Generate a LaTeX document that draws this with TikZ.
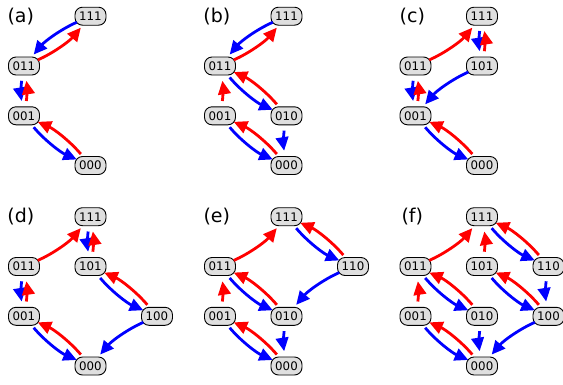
\documentclass[tikz,border=0pt]{standalone}
\usepackage{fontspec}
\setmainfont{DejaVu Sans}
\usetikzlibrary{arrows.meta}
\def\cL{24}
\def\cM{90.5}
\def\cR{157}
\def\rA{16.2}
\def\rB{66}
\def\rC{115.8}
\def\rD{165.5}
\tikzset{
  st/.style={draw=black, line width=0.9pt, fill=gray!25, rounded corners=7.5pt,
    minimum width=31pt, minimum height=18pt, inner sep=0pt,
    font=\fontsize{11.8}{12}\selectfont},
  lab/.style={inner sep=0pt, font=\fontsize{19}{20}\selectfont},
  arr/.style={line width=2.8pt, -{Triangle[length=13.5pt,width=12.5pt]},
    shorten <=15pt, shorten >=15pt, bend right=13},
  dn/.style={arr, draw=blue},
  up/.style={arr, draw=red},
  vb/.style={bend right=9}
}
\begin{document}
\begin{tikzpicture}[x=1pt,y=-1pt]
\fill[white] (0,0) rectangle (563,384);
\useasboundingbox (0,0) rectangle (563,384);
% ---------- (a)
\begin{scope}[shift={(0,0)}]
\node[lab] (la) at (20.8,16.3) {(a)};
\node[st] (a111) at (\cM,\rA) {111};
\node[st] (a011) at (\cL,\rB) {011};
\node[st] (a001) at (\cL,\rC) {001};
\node[st] (a000) at (\cM,\rD) {000};
\draw[dn] (a111.center) to (a011.center);
\draw[up] (a011.center) to (a111.center);
\draw[dn,vb] (a011.center) to (a001.center);
\draw[up,vb] (a001.center) to (a011.center);
\draw[dn] (a001.center) to (a000.center);
\draw[up] (a000.center) to (a001.center);
\end{scope}
% ---------- (b)
\begin{scope}[shift={(196,0)}]
\node[lab] (lb) at (20.8,16.3) {(b)};
\node[st] (b111) at (\cM,\rA) {111};
\node[st] (b011) at (\cL,\rB) {011};
\node[st] (b001) at (\cL,\rC) {001};
\node[st] (b010) at (\cM,\rC) {010};
\node[st] (b000) at (\cM,\rD) {000};
\draw[dn] (b111.center) to (b011.center);
\draw[up] (b011.center) to (b111.center);
\draw[up,vb] (b001.center) to (b011.center);
\draw[dn] (b011.center) to (b010.center);
\draw[up] (b010.center) to (b011.center);
\draw[dn,vb] (b010.center) to (b000.center);
\draw[dn] (b001.center) to (b000.center);
\draw[up] (b000.center) to (b001.center);
\end{scope}
% ---------- (c)
\begin{scope}[shift={(391.5,0)}]
\node[lab] (lc) at (20.8,16.3) {(c)};
\node[st] (c111) at (\cM,\rA) {111};
\node[st] (c011) at (\cL,\rB) {011};
\node[st] (c101) at (\cM,\rB) {101};
\node[st] (c001) at (\cL,\rC) {001};
\node[st] (c000) at (\cM,\rD) {000};
\draw[up] (c011.center) to (c111.center);
\draw[dn,vb] (c111.center) to (c101.center);
\draw[up,vb] (c101.center) to (c111.center);
\draw[dn] (c101.center) to (c001.center);
\draw[dn,vb] (c011.center) to (c001.center);
\draw[up,vb] (c001.center) to (c011.center);
\draw[dn] (c001.center) to (c000.center);
\draw[up] (c000.center) to (c001.center);
\end{scope}
% ---------- (d)
\begin{scope}[shift={(0,200.5)}]
\node[lab] (ld) at (20.8,16.3) {(d)};
\node[st] (d111) at (\cM,\rA) {111};
\node[st] (d011) at (\cL,\rB) {011};
\node[st] (d101) at (\cM,\rB) {101};
\node[st] (d001) at (\cL,\rC) {001};
\node[st] (d100) at (\cR,\rC) {100};
\node[st] (d000) at (\cM,\rD) {000};
\draw[up] (d011.center) to (d111.center);
\draw[dn,vb] (d111.center) to (d101.center);
\draw[up,vb] (d101.center) to (d111.center);
\draw[dn,vb] (d011.center) to (d001.center);
\draw[up,vb] (d001.center) to (d011.center);
\draw[dn] (d101.center) to (d100.center);
\draw[up] (d100.center) to (d101.center);
\draw[dn] (d100.center) to (d000.center);
\draw[dn] (d001.center) to (d000.center);
\draw[up] (d000.center) to (d001.center);
\end{scope}
% ---------- (e)
\begin{scope}[shift={(196,200.5)}]
\node[lab] (le) at (20.8,16.3) {(e)};
\node[st] (e111) at (\cM,\rA) {111};
\node[st] (e011) at (\cL,\rB) {011};
\node[st] (e110) at (\cR,\rB) {110};
\node[st] (e001) at (\cL,\rC) {001};
\node[st] (e010) at (\cM,\rC) {010};
\node[st] (e000) at (\cM,\rD) {000};
\draw[up] (e011.center) to (e111.center);
\draw[dn] (e111.center) to (e110.center);
\draw[up] (e110.center) to (e111.center);
\draw[dn] (e110.center) to (e010.center);
\draw[up,vb] (e001.center) to (e011.center);
\draw[dn] (e011.center) to (e010.center);
\draw[up] (e010.center) to (e011.center);
\draw[dn,vb] (e010.center) to (e000.center);
\draw[dn] (e001.center) to (e000.center);
\draw[up] (e000.center) to (e001.center);
\end{scope}
% ---------- (f)
\begin{scope}[shift={(391.5,200.5)}]
\node[lab] (lf) at (20.8,16.3) {(f)};
\node[st] (f111) at (\cM,\rA) {111};
\node[st] (f011) at (\cL,\rB) {011};
\node[st] (f101) at (\cM,\rB) {101};
\node[st] (f110) at (\cR,\rB) {110};
\node[st] (f001) at (\cL,\rC) {001};
\node[st] (f010) at (\cM,\rC) {010};
\node[st] (f100) at (\cR,\rC) {100};
\node[st] (f000) at (\cM,\rD) {000};
\draw[up] (f011.center) to (f111.center);
\draw[up,vb] (f101.center) to (f111.center);
\draw[dn] (f111.center) to (f110.center);
\draw[up] (f110.center) to (f111.center);
\draw[dn,vb] (f110.center) to (f100.center);
\draw[dn] (f011.center) to (f010.center);
\draw[up] (f010.center) to (f011.center);
\draw[dn] (f101.center) to (f100.center);
\draw[up] (f100.center) to (f101.center);
\draw[up,vb] (f001.center) to (f011.center);
\draw[dn,vb] (f010.center) to (f000.center);
\draw[dn] (f100.center) to (f000.center);
\draw[dn] (f001.center) to (f000.center);
\draw[up] (f000.center) to (f001.center);
\end{scope}
\end{tikzpicture}
\end{document}
